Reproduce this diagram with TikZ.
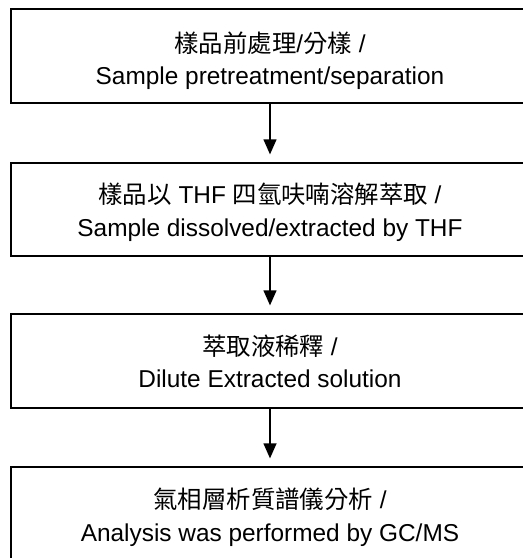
\documentclass[tikz,border=0pt]{standalone}
\usepackage{fontspec}
\setmainfont{Liberation Sans}
\newfontfamily\cjk{Noto Sans CJK TC}
\usetikzlibrary{arrows.meta}
\begin{document}
\begin{tikzpicture}[x=1pt,y=-1pt,
  stepbox/.style={draw, line width=1.3pt, minimum width=518pt, inner sep=0pt},
  steptext/.style={anchor=base, align=center, inner sep=0pt,
    font=\fontsize{24.4pt}{32.5pt}\selectfont},
  flow/.style={line width=1.3pt, -{Triangle[length=15pt,width=13pt]}, shorten >=8pt}]
\useasboundingbox (0,0) rectangle (523,558);
\node[stepbox, minimum height=94pt] (b1) at (270,56) {};
\node[stepbox, minimum height=93pt] (b2) at (270,209.5) {};
\node[stepbox, minimum height=94pt] (b3) at (270,361) {};
\node[stepbox, minimum height=94pt] (b4) at (270,514) {};
\node[steptext] (t1) at (270,84.5) {{\cjk 樣品前處理}/{\cjk 分樣} /\\Sample pretreatment/separation};
\node[steptext] (t2) at (270,236) {{\cjk 樣品以} THF {\cjk 四氫呋喃溶解萃取} /\\Sample dissolved/extracted by THF};
\node[steptext] (t3) at (270,387.5) {{\cjk 萃取液稀釋} /\\Dilute Extracted solution};
\node[steptext] (t4) at (270,541) {{\cjk 氣相層析質譜儀分析} /\\Analysis was performed by GC/MS};
\draw[flow] (b1) -- (b2);
\draw[flow] (b2) -- (b3);
\draw[flow] (b3) -- (b4);
\end{tikzpicture}
\end{document}
